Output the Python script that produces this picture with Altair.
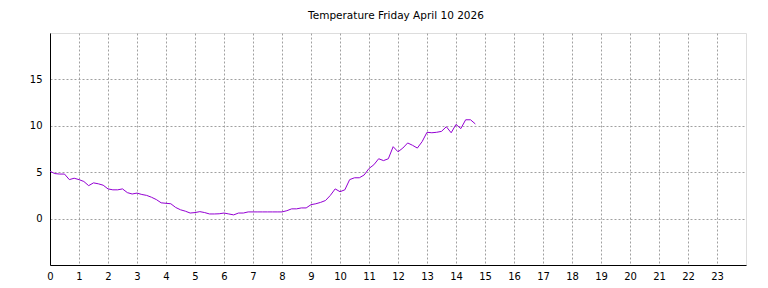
import altair as alt
import pandas as pd

TITLE = "Temperature Friday April 10 2026"
STEP_MIN = 10  # samples every 10 minutes

temps = [
    5.1, 4.85, 4.8, 4.8, 4.2, 4.35, 4.2, 4.0, 3.55, 3.85,
    3.75, 3.6, 3.2, 3.1, 3.1, 3.2, 2.8, 2.65, 2.75, 2.6,
    2.5, 2.3, 2.05, 1.7, 1.65, 1.6, 1.2, 0.95, 0.8, 0.6,
    0.65, 0.75, 0.65, 0.5, 0.5, 0.52, 0.6, 0.5, 0.4, 0.6,
    0.6, 0.72, 0.72, 0.72, 0.72, 0.72, 0.72, 0.72, 0.72, 0.85,
    1.05, 1.05, 1.15, 1.15, 1.5, 1.6, 1.75, 1.95, 2.5, 3.2,
    2.9, 3.1, 4.2, 4.4, 4.4, 4.7, 5.4, 5.8, 6.45, 6.25,
    6.45, 7.75, 7.2, 7.6, 8.15, 7.9, 7.6, 8.3, 9.3, 9.25,
    9.3, 9.4, 9.9, 9.25, 10.15, 9.7, 10.65, 10.65, 10.2,
]
hours = [i * STEP_MIN / 60 for i in range(len(temps))]

x_ticks = list(range(0, 24))
y_ticks = [0, 5, 10, 15]
x_domain = [0, 24]
y_domain = [-5, 20]

df = pd.DataFrame({"hour": hours, "temp": temps})

FONT = "DejaVu Sans"
GRID = dict(grid=True, gridDash=[2, 2], gridColor="#a0a0a0", gridOpacity=1, gridWidth=1,
            ticks=False, domainColor="black", labelFontSize=10, labelColor="black",
            labelFont=FONT, labelOverlap=False, labelFlush=False, title=None)

chart = (
    alt.Chart(
        df,
        title=alt.Title(TITLE, fontSize=10.5, font=FONT, fontWeight="normal", color="black",
                        baseline="alphabetic", offset=4, dx=-2),
    )
    .mark_line(color="#9400d3", strokeWidth=1)
    .encode(
        x=alt.X("hour:Q", scale=alt.Scale(domain=x_domain, nice=False, zero=False),
                axis=alt.Axis(values=x_ticks, format="d", labelPadding=6, **GRID)),
        y=alt.Y("temp:Q", scale=alt.Scale(domain=y_domain, nice=False, zero=False),
                axis=alt.Axis(values=y_ticks, format="d", labelPadding=8, **GRID)),
    )
    .properties(width=696, height=232, autosize="none",
                padding={"left": 50, "top": 33, "right": 22, "bottom": 23})
    .configure_view(stroke="black", strokeWidth=1)
    .configure(background="white")
)

chart.save("out.html", embed_options={"renderer": "svg", "actions": False})
